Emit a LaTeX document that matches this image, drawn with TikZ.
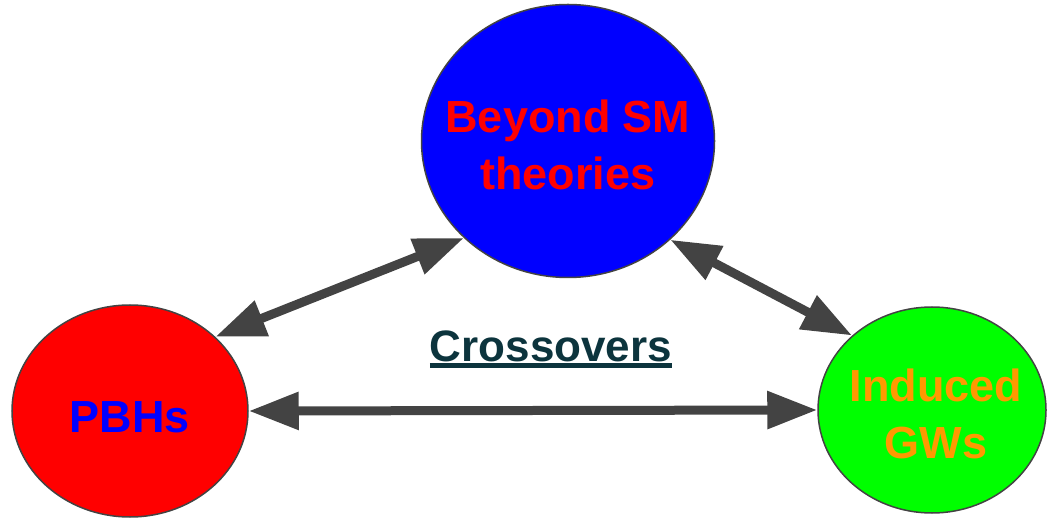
\documentclass[tikz,border=0pt]{standalone}
\usepackage{fontspec}
\setmainfont{Liberation Sans}
\usetikzlibrary{shapes.geometric,arrows.meta}
\definecolor{arrowgray}{HTML}{434343}
\definecolor{crossteal}{HTML}{0C343D}
\definecolor{gworange}{HTML}{FF9900}
\newcommand{\ulcross}[1]{\setbox0\hbox{#1}\rlap{\rule[-6pt]{\wd0}{5pt}}\box0}
\newcommand{\topictext}[2][-15pt]{\makebox[0pt]{\raisebox{#1}[0pt][0pt]{\begin{tabular}{@{}c@{}}#2\end{tabular}}}}
\begin{document}
\begin{tikzpicture}[x=1pt, y=1pt,
  topic/.style={ellipse, draw=arrowgray, line width=1.5pt, inner sep=0pt,
    font=\fontsize{45}{57}\selectfont\bfseries},
  link/.style={arrowgray, line width=9pt, {Triangle[length=50pt, width=36pt]}-{Triangle[length=50pt, width=36pt]}}]
\useasboundingbox (0,0) rectangle (1048,519);
\node[topic, fill=blue, text=red, minimum width=293pt, minimum height=273pt] (bsm) at (568,378){\topictext{Beyond SM\\theories}};
\node[topic, fill=red, text=blue, minimum width=236pt, minimum height=212pt] (pbh) at (130,108){\topictext[-16pt]{PBHs}};
\node[topic, fill=green, text=gworange, minimum width=228pt, minimum height=206pt] (gw) at (932,109){\hspace{8pt}\topictext[-15pt]{Induced\\GWs}};
\node[text=crossteal, anchor=base, inner sep=0pt, font=\fontsize{44}{50}\selectfont\bfseries] (cross) at (551,157){\ulcross{Crossovers}};
\draw[link](pbh.41.8) -- (bsm.223.3);
\draw[link](bsm.316.7) -- (gw.137.7);
\draw[link](pbh.east) -- (gw.west);
\end{tikzpicture}
\end{document}
